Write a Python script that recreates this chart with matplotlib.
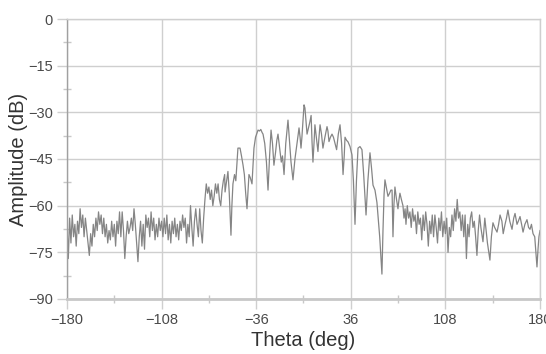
import matplotlib
matplotlib.use("Agg")
import matplotlib.pyplot as plt
from matplotlib.ticker import MultipleLocator

plt.rcParams['font.family'] = ['Liberation Sans', 'DejaVu Sans']

# ---- data (theta in deg, amplitude in dB) ----
theta_left = [-180, -179, -178, -177, -176, -175, -174, -173, -172, -171, -170, -169, -168, -167,
              -166, -165, -164, -163, -162, -161, -160, -159, -158, -157, -156, -155, -154, -153,
              -152, -151, -150, -149, -148, -147, -146, -145, -144, -143, -142, -141, -140, -139,
              -138, -137, -136, -135, -134, -133, -132, -131, -130, -129, -128, -127, -126, -125,
              -124, -123, -122, -121, -120, -119, -118, -117, -116, -115, -114, -113, -112, -111,
              -110, -109, -108]
amp_left = [-66, -77, -64, -72, -63, -70, -66, -73, -65, -69, -61, -67, -63, -70,
            -64, -68, -72, -76, -69, -73, -66, -70, -64, -68, -62, -66, -63, -69,
            -64, -70, -66, -72, -68, -71, -65, -70, -66, -73, -65, -69, -62, -70,
            -62, -68, -77, -70, -65, -69, -67, -64, -68, -61, -66, -72, -78, -70,
            -65, -73, -66, -74, -63, -67, -64, -70, -62, -68, -64, -71, -66, -70,
            -64, -68, -65]

theta_rise = [-107, -106, -105, -104, -103, -102, -101, -100, -99, -98, -97, -96, -95, -94,
              -93, -92, -91, -90, -89, -88, -87, -86, -85, -84, -83, -82, -81, -80, -79,
              -78, -77, -76, -75, -74, -73, -72, -71, -70, -69, -68, -67, -66, -65, -64,
              -63, -62, -61, -60]
amp_rise = [-70, -64, -69, -63, -71, -66, -72, -65, -69, -64, -70, -66, -71, -65,
            -68, -63, -67, -64, -72, -66, -70, -60, -67, -73, -65, -61, -66, -70, -61,
            -68, -72, -64, -58, -53, -56, -54, -58, -55, -60, -57, -53, -56, -53, -58,
            -60, -55, -52, -50]

theta_main = [-59.7, -58.5, -57.5, -56.5, -55.2, -54.5, -53.7, -52.5, -51.5, -50.6, -49.9,
              -48.3, -47.2, -46.0, -45.0, -44.0, -43.0, -41.5, -40.5, -39.2, -37.7, -36.5,
              -34.6, -33.5, -32.5, -31.5, -30.8, -29.5, -28.2, -27.0, -25.8, -24.7, -23.6,
              -22.5, -21.3, -20.3, -19.4, -18.3, -17.5, -16.9, -16.0, -14.8, -13.5, -11.8,
              -10.7, -9.5, -8.0, -6.5, -4.9, -4.0, -3.4, -2.6, -1.9, -1.2, 0.4, 1.1, 1.9,
              2.7, 3.8, 4.9, 5.8, 6.5, 7.2, 8.0, 8.7, 9.8, 11.0, 11.8, 12.6, 13.7, 14.8,
              16.3, 17.9, 18.6, 19.4, 20.5, 21.7, 22.8, 24.0, 25.2, 26.5, 27.8, 29.0, 30.1,
              31.0, 31.6, 32.8, 33.9, 35.4, 36.9, 38.0, 39.2, 40.3, 41.5, 43.0, 44.5, 45.8,
              47.6, 49.0, 50.6, 51.8, 52.9, 54.4, 55.9, 57.0, 58.0, 59.7, 60.5, 61.3, 62.0,
              63.0, 64.3, 65.5, 66.5, 67.4, 68.1, 68.8, 69.6, 70.8, 71.9, 72.7, 73.4, 74.5,
              75.7]
amp_main = [-55.6, -52, -49, -56, -69.5, -60, -53, -50, -52, -46, -41.5,
            -41.5, -44, -47, -50, -56, -61, -50, -51, -53, -41.5, -38,
            -35.7, -36, -35.5, -36.5, -37, -40, -46, -55, -44, -35.7, -40,
            -47, -43, -39, -37, -41, -44, -46, -44, -50, -40, -32.5,
            -39, -46, -51.7, -45, -40, -37, -35, -38, -41.5, -38, -27.6, -28.6, -33,
            -37, -35, -33, -31, -39.5, -46, -40, -34, -38, -42.6, -38, -34, -37, -41.5,
            -38, -34.6, -36, -39.4, -38, -37, -38, -40, -42, -37, -34, -40, -50,
            -44, -38, -39, -39.5, -41, -43.7, -52, -66, -52, -41.5, -41, -42, -50,
            -63, -52, -43, -48, -53.4, -55, -59, -65, -70, -82, -68, -56.6, -51.7,
            -54, -57, -56, -55, -55, -70, -60, -54, -58, -61, -58, -56, -58,
            -60]

theta_right = [76.5, 77.3, 78, 79, 80, 81, 82, 83, 84, 85, 86, 87, 88, 89, 90, 91, 92, 93, 94,
               95, 96, 97, 98, 99, 100, 101, 102, 103, 104, 105, 106, 107, 108, 109, 110, 111,
               112, 113, 114, 115, 116, 117, 118, 119, 120, 121, 122, 123, 124, 125, 126, 127,
               128, 129, 130, 131, 132, 133, 134, 135, 136.6, 138, 139, 140, 141.9, 143, 144.2,
               145.5, 147.3, 148.5, 149.6, 151, 152, 153.4, 154.5, 155.6, 157, 158.7, 160, 161,
               162.5, 163.5, 164.8, 166, 167.1, 168.5, 170.1, 171.3, 172.4, 173.5, 174.7, 176,
               177.7, 178.5, 179.2, 180]
amp_right = [-64, -61, -66, -60, -64, -62, -67, -61, -65, -63, -69, -62, -66, -64, -71, -63, -68, -62, -66,
             -73, -65, -69, -63, -70, -63, -67, -72, -64, -68, -62, -70, -65, -69, -64, -75, -67,
             -70, -63, -68, -61, -65, -58, -64, -62, -68, -63, -70, -63, -77, -66, -70, -64,
             -62, -67, -65, -70, -76, -68, -63, -67, -71.6, -64, -68, -72, -77.5, -70, -65.5,
             -67, -68.5, -66, -63, -65, -69, -66, -64, -61.4, -65, -67.6, -64, -62.5,
             -66, -65, -63.5, -66, -68.5, -66, -64.5, -67, -67.6, -66, -69, -70,
             -79.7, -74, -70, -68]

x_ticks = [-180, -108, -36, 36, 108, 180]
y_ticks = [-90, -75, -60, -45, -30, -15, 0]

theta = theta_left + theta_rise + theta_main + theta_right
amp = amp_left + amp_rise + amp_main + amp_right

fig = plt.figure(figsize=(5.46, 3.54), dpi=100)
ax = fig.add_axes([0.1227, 0.1554, 0.8663, 0.7909])

ax.plot(theta, amp, color='#858585', lw=0.9)

ax.set_xlim(-180, 180)
ax.set_ylim(-90, 0)
ax.set_xticks(x_ticks)
ax.set_yticks(y_ticks)
ax.xaxis.set_minor_locator(MultipleLocator(36))
ax.yaxis.set_minor_locator(MultipleLocator(7.5))
ax.grid(True, which='major', color='#cfcfcf', lw=1.0)
ax.set_axisbelow(True)

ax.tick_params(which='major', direction='out', length=7, width=1, color='#cfcfcf',
               labelsize=10.5, labelcolor='#4a4a4a', pad=3)
ax.tick_params(which='minor', direction='inout', length=6, width=1, color='#c8c8c8')

for s in ['top', 'right']:
    ax.spines[s].set_color('#cfcfcf')
    ax.spines[s].set_linewidth(1.0)
ax.spines['left'].set_color('#a0a0a0')
ax.spines['left'].set_linewidth(1.0)
ax.spines['bottom'].set_color('#c8c8c8')
ax.spines['bottom'].set_linewidth(2.0)

ax.set_xlabel('Theta (deg)', fontsize=14.5, color='#333333', labelpad=3)
ax.set_ylabel('Amplitude (dB)', fontsize=14.5, color='#333333')
ax.yaxis.set_label_coords(-0.083, 0.5)

fig.savefig('out.png', dpi=100)
